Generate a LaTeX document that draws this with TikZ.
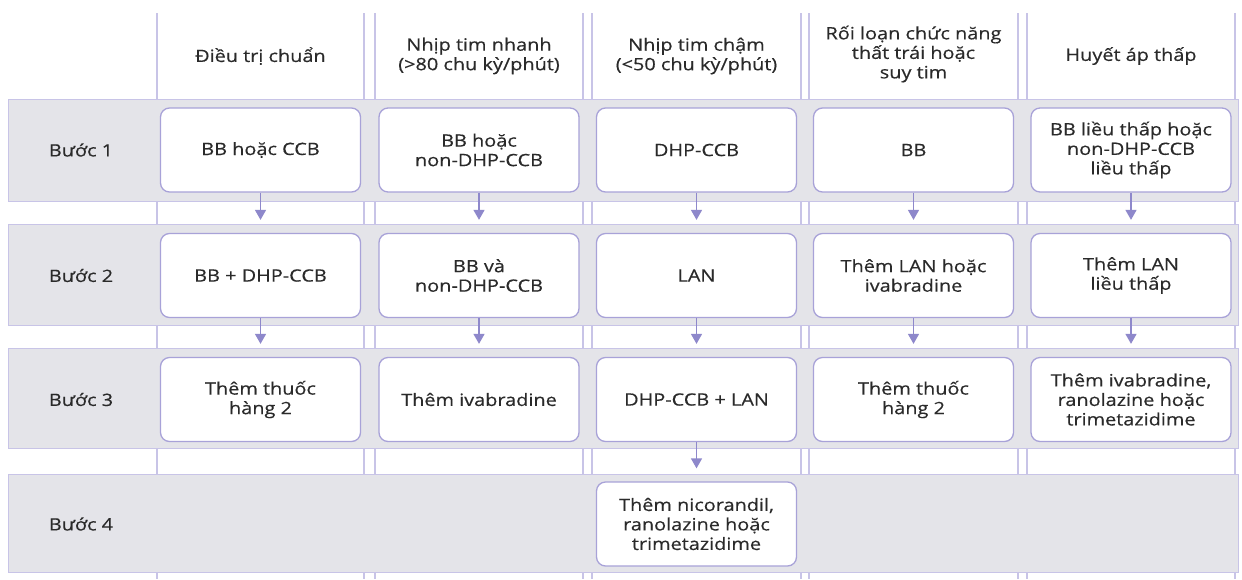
\documentclass[tikz,border=0pt]{standalone}
\usepackage{fontspec}
\setmainfont{Open Sans}[FakeStretch=1.17,FakeBold=0.4]
\usetikzlibrary{arrows.meta}
\definecolor{bandgray}{HTML}{E4E4E9}
\definecolor{lav}{HTML}{A8A2D8}
\definecolor{lavline}{HTML}{C8C4E7}
\definecolor{arrowc}{HTML}{8E88CB}
\definecolor{txt}{HTML}{2A2A2A}
\begin{document}
\begin{tikzpicture}[x=1pt,y=-1pt,
  txtfont/.style={text=txt,font=\fontsize{17}{19.5}\selectfont},
  cell/.style={txtfont,draw=lav,line width=1.3pt,fill=white,rounded corners=9pt,
    minimum width=200pt,minimum height=84pt,align=center,inner sep=0pt},
  hdr/.style={txtfont,align=center,inner sep=0pt},
  lbl/.style={txtfont,inner sep=0pt},
  band/.style={fill=bandgray,draw=lavline,line width=1pt},
  colline/.style={draw=lavline,line width=1.2pt},
  arr/.style={draw=arrowc,line width=1.4pt,shorten >=13pt,-{Triangle[length=10pt,width=11pt]}}]
\useasboundingbox (0,0) rectangle (1242,579);
\fill[white] (0,0) rectangle (1242,579);
% column lines
\foreach \l/\r in {157/364,375/583,592/801,809/1018,1027/1235}{
  \draw[colline] (\l,13) -- (\l,579);
  \draw[colline] (\r,13) -- (\r,579);
}
% bands
\draw[band] (8,99) rectangle (1238,201);
\draw[band] (8,224) rectangle (1238,325);
\draw[band] (8,348) rectangle (1238,448);
\draw[band] (8,474) rectangle (1238,572);
% headers
\node[hdr] (h1) at (260.5,56) {Điều trị chuẩn};
\node[hdr] (h2) at (479,56) {Nhịp tim nhanh\\(>80 chu kỳ/phút)};
\node[hdr] (h3) at (696.5,56) {Nhịp tim chậm\\(<50 chu kỳ/phút)};
\node[hdr] (h4) at (913.5,54) {Rối loạn chức năng\\thất trái hoặc\\suy tim};
\node[hdr] (h5) at (1131,56) {Huyết áp thấp};
% row labels
\node[lbl] (l1) at (81,150) {Bước 1};
\node[lbl] (l2) at (81,275.5) {Bước 2};
\node[lbl] (l3) at (81,399.5) {Bước 3};
\node[lbl] (l4) at (81,524) {Bước 4};
% row 1
\node[cell] (a1) at (260.5,150) {BB hoặc CCB};
\node[cell] (a2) at (479,150) {BB hoặc\\non-DHP-CCB};
\node[cell] (a3) at (696.5,150) {DHP-CCB};
\node[cell] (a4) at (913.5,150) {BB};
\node[cell] (a5) at (1131,150) {BB liều thấp hoặc\\non-DHP-CCB\\liều thấp};
% row 2
\node[cell] (b1) at (260.5,275.5) {BB + DHP-CCB};
\node[cell] (b2) at (479,275.5) {BB và\\non-DHP-CCB};
\node[cell] (b3) at (696.5,275.5) {LAN};
\node[cell] (b4) at (913.5,275.5) {Thêm LAN hoặc\\ivabradine};
\node[cell] (b5) at (1131,275.5) {Thêm LAN\\liều thấp};
% row 3
\node[cell] (c1) at (260.5,399.5) {Thêm thuốc\\hàng 2};
\node[cell] (c2) at (479,399.5) {Thêm ivabradine};
\node[cell] (c3) at (696.5,399.5) {DHP-CCB + LAN};
\node[cell] (c4) at (913.5,399.5) {Thêm thuốc\\hàng 2};
\node[cell] (c5) at (1131,399.5) {Thêm ivabradine,\\ranolazine hoặc\\trimetazidime};
% row 4
\node[cell] (d3) at (696.5,524) {Thêm nicorandil,\\ranolazine hoặc\\trimetazidime};
% arrows
\foreach \i in {1,...,5}{
  \draw[arr] (a\i.south) -- (b\i.north);
  \draw[arr] (b\i.south) -- (c\i.north);
}
\draw[arr] (c3.south) -- (d3.north);
\end{tikzpicture}
\end{document}
